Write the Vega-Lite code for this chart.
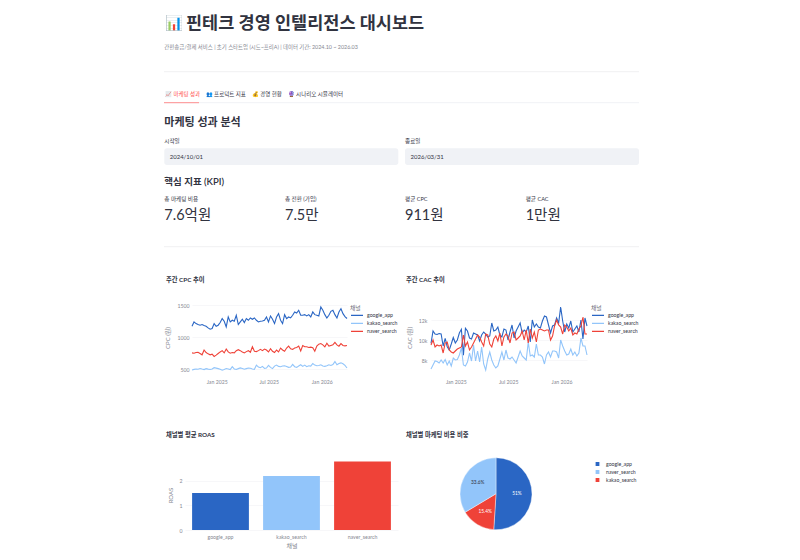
{
  "$schema": "https://vega.github.io/schema/vega-lite/v6.json",
  "padding": {"left": 163, "top": 0, "right": 0, "bottom": 0},
  "background": "#ffffff",
  "config": {
    "font": "Lato, \"Noto Sans CJK KR\"",
    "view": {"stroke": null},
    "axis": {
      "grid": false,
      "domain": false,
      "ticks": false,
      "labelColor": "#858791",
      "titleColor": "#858791",
      "labelFontSize": 5.2,
      "titleFontSize": 6,
      "titleFontWeight": 400,
      "gridColor": "#f4f4f6",
      "gridWidth": 0.7
    },
    "legend": {
      "labelColor": "#31333f",
      "titleColor": "#6b6d78",
      "labelFontSize": 5.2,
      "titleFontSize": 5.8,
      "titleFontWeight": 400
    },
    "title": {
      "anchor": "start",
      "frame": "group",
      "fontSize": 6.3,
      "fontWeight": 700,
      "color": "#31333f"
    }
  },
  "datasets": {
    "weekly": [
      {"week":"2024-09-30","channel":"google_app","cpc":1170,"cac":9670},
      {"week":"2024-10-07","channel":"google_app","cpc":1237,"cac":10900},
      {"week":"2024-10-14","channel":"google_app","cpc":1211,"cac":10600},
      {"week":"2024-10-21","channel":"google_app","cpc":1196,"cac":10550},
      {"week":"2024-10-28","channel":"google_app","cpc":1186,"cac":10650},
      {"week":"2024-11-04","channel":"google_app","cpc":1196,"cac":10600},
      {"week":"2024-11-11","channel":"google_app","cpc":1180,"cac":9400},
      {"week":"2024-11-18","channel":"google_app","cpc":1170,"cac":10170},
      {"week":"2024-11-25","channel":"google_app","cpc":1144,"cac":9330},
      {"week":"2024-12-02","channel":"google_app","cpc":1124,"cac":9000},
      {"week":"2024-12-09","channel":"google_app","cpc":1134,"cac":9600},
      {"week":"2024-12-16","channel":"google_app","cpc":1211,"cac":10250},
      {"week":"2024-12-23","channel":"google_app","cpc":1170,"cac":9700},
      {"week":"2024-12-30","channel":"google_app","cpc":1186,"cac":10000},
      {"week":"2025-01-06","channel":"google_app","cpc":1227,"cac":10700},
      {"week":"2025-01-13","channel":"google_app","cpc":1289,"cac":11070},
      {"week":"2025-01-20","channel":"google_app","cpc":1247,"cac":8470},
      {"week":"2025-01-27","channel":"google_app","cpc":1160,"cac":11170},
      {"week":"2025-02-03","channel":"google_app","cpc":1314,"cac":10900},
      {"week":"2025-02-10","channel":"google_app","cpc":1237,"cac":10200},
      {"week":"2025-02-17","channel":"google_app","cpc":1263,"cac":10100},
      {"week":"2025-02-24","channel":"google_app","cpc":1247,"cac":10700},
      {"week":"2025-03-03","channel":"google_app","cpc":1340,"cac":10600},
      {"week":"2025-03-10","channel":"google_app","cpc":1196,"cac":10500},
      {"week":"2025-03-17","channel":"google_app","cpc":1237,"cac":9900},
      {"week":"2025-03-24","channel":"google_app","cpc":1278,"cac":10500},
      {"week":"2025-03-31","channel":"google_app","cpc":1227,"cac":10800},
      {"week":"2025-04-07","channel":"google_app","cpc":1289,"cac":10600},
      {"week":"2025-04-14","channel":"google_app","cpc":1263,"cac":10300},
      {"week":"2025-04-21","channel":"google_app","cpc":1299,"cac":10400},
      {"week":"2025-04-28","channel":"google_app","cpc":1278,"cac":11700},
      {"week":"2025-05-05","channel":"google_app","cpc":1299,"cac":10900},
      {"week":"2025-05-12","channel":"google_app","cpc":1263,"cac":11000},
      {"week":"2025-05-19","channel":"google_app","cpc":1237,"cac":11300},
      {"week":"2025-05-26","channel":"google_app","cpc":1247,"cac":10500},
      {"week":"2025-06-02","channel":"google_app","cpc":1252,"cac":10300},
      {"week":"2025-06-09","channel":"google_app","cpc":1263,"cac":11100},
      {"week":"2025-06-16","channel":"google_app","cpc":1314,"cac":11000},
      {"week":"2025-06-23","channel":"google_app","cpc":1237,"cac":10000},
      {"week":"2025-06-30","channel":"google_app","cpc":1330,"cac":10800},
      {"week":"2025-07-07","channel":"google_app","cpc":1278,"cac":11500},
      {"week":"2025-07-14","channel":"google_app","cpc":1211,"cac":10200},
      {"week":"2025-07-21","channel":"google_app","cpc":1314,"cac":10900},
      {"week":"2025-07-28","channel":"google_app","cpc":1366,"cac":11300},
      {"week":"2025-08-04","channel":"google_app","cpc":1263,"cac":11700},
      {"week":"2025-08-11","channel":"google_app","cpc":1211,"cac":10700},
      {"week":"2025-08-18","channel":"google_app","cpc":1350,"cac":11000},
      {"week":"2025-08-25","channel":"google_app","cpc":1289,"cac":10800},
      {"week":"2025-09-01","channel":"google_app","cpc":1314,"cac":11400},
      {"week":"2025-09-08","channel":"google_app","cpc":1299,"cac":9800},
      {"week":"2025-09-15","channel":"google_app","cpc":1340,"cac":12000},
      {"week":"2025-09-22","channel":"google_app","cpc":1392,"cac":11300},
      {"week":"2025-09-29","channel":"google_app","cpc":1376,"cac":11600},
      {"week":"2025-10-06","channel":"google_app","cpc":1418,"cac":11300},
      {"week":"2025-10-13","channel":"google_app","cpc":1340,"cac":11200},
      {"week":"2025-10-20","channel":"google_app","cpc":1340,"cac":11900},
      {"week":"2025-10-27","channel":"google_app","cpc":1350,"cac":12400},
      {"week":"2025-11-03","channel":"google_app","cpc":1330,"cac":12300},
      {"week":"2025-11-10","channel":"google_app","cpc":1350,"cac":11500},
      {"week":"2025-11-17","channel":"google_app","cpc":1314,"cac":10700},
      {"week":"2025-11-24","channel":"google_app","cpc":1392,"cac":11400},
      {"week":"2025-12-01","channel":"google_app","cpc":1350,"cac":11500},
      {"week":"2025-12-08","channel":"google_app","cpc":1340,"cac":12200},
      {"week":"2025-12-15","channel":"google_app","cpc":1330,"cac":11700},
      {"week":"2025-12-22","channel":"google_app","cpc":1469,"cac":13300},
      {"week":"2025-12-29","channel":"google_app","cpc":1418,"cac":11900},
      {"week":"2026-01-05","channel":"google_app","cpc":1350,"cac":10800},
      {"week":"2026-01-12","channel":"google_app","cpc":1299,"cac":11600},
      {"week":"2026-01-19","channel":"google_app","cpc":1340,"cac":11200},
      {"week":"2026-01-26","channel":"google_app","cpc":1402,"cac":11900},
      {"week":"2026-02-02","channel":"google_app","cpc":1418,"cac":10800},
      {"week":"2026-02-09","channel":"google_app","cpc":1350,"cac":11100},
      {"week":"2026-02-16","channel":"google_app","cpc":1299,"cac":11400},
      {"week":"2026-02-23","channel":"google_app","cpc":1392,"cac":10800},
      {"week":"2026-03-02","channel":"google_app","cpc":1443,"cac":12000},
      {"week":"2026-03-09","channel":"google_app","cpc":1366,"cac":10100},
      {"week":"2026-03-16","channel":"google_app","cpc":1320,"cac":12200},
      {"week":"2026-03-23","channel":"google_app","cpc":1290,"cac":11400},
      {"week":"2024-09-30","channel":"kakao_search","cpc":490,"cac":7100},
      {"week":"2024-10-07","channel":"kakao_search","cpc":498,"cac":7500},
      {"week":"2024-10-14","channel":"kakao_search","cpc":505,"cac":7900},
      {"week":"2024-10-21","channel":"kakao_search","cpc":500,"cac":7850},
      {"week":"2024-10-28","channel":"kakao_search","cpc":512,"cac":7700},
      {"week":"2024-11-04","channel":"kakao_search","cpc":503,"cac":8000},
      {"week":"2024-11-11","channel":"kakao_search","cpc":495,"cac":7700},
      {"week":"2024-11-18","channel":"kakao_search","cpc":510,"cac":8050},
      {"week":"2024-11-25","channel":"kakao_search","cpc":502,"cac":7500},
      {"week":"2024-12-02","channel":"kakao_search","cpc":496,"cac":7900},
      {"week":"2024-12-09","channel":"kakao_search","cpc":505,"cac":7400},
      {"week":"2024-12-16","channel":"kakao_search","cpc":525,"cac":8200},
      {"week":"2024-12-23","channel":"kakao_search","cpc":518,"cac":8000},
      {"week":"2024-12-30","channel":"kakao_search","cpc":510,"cac":8050},
      {"week":"2025-01-06","channel":"kakao_search","cpc":500,"cac":8500},
      {"week":"2025-01-13","channel":"kakao_search","cpc":485,"cac":9200},
      {"week":"2025-01-20","channel":"kakao_search","cpc":498,"cac":7500},
      {"week":"2025-01-27","channel":"kakao_search","cpc":512,"cac":7400},
      {"week":"2025-02-03","channel":"kakao_search","cpc":505,"cac":7800},
      {"week":"2025-02-10","channel":"kakao_search","cpc":495,"cac":8700},
      {"week":"2025-02-17","channel":"kakao_search","cpc":540,"cac":7900},
      {"week":"2025-02-24","channel":"kakao_search","cpc":505,"cac":9500},
      {"week":"2025-03-03","channel":"kakao_search","cpc":498,"cac":7900},
      {"week":"2025-03-10","channel":"kakao_search","cpc":510,"cac":8900},
      {"week":"2025-03-17","channel":"kakao_search","cpc":522,"cac":7800},
      {"week":"2025-03-24","channel":"kakao_search","cpc":512,"cac":9300},
      {"week":"2025-03-31","channel":"kakao_search","cpc":500,"cac":7600},
      {"week":"2025-04-07","channel":"kakao_search","cpc":510,"cac":7000},
      {"week":"2025-04-14","channel":"kakao_search","cpc":520,"cac":8100},
      {"week":"2025-04-21","channel":"kakao_search","cpc":515,"cac":8800},
      {"week":"2025-04-28","channel":"kakao_search","cpc":505,"cac":8000},
      {"week":"2025-05-05","channel":"kakao_search","cpc":500,"cac":7500},
      {"week":"2025-05-12","channel":"kakao_search","cpc":565,"cac":7200},
      {"week":"2025-05-19","channel":"kakao_search","cpc":535,"cac":7400},
      {"week":"2025-05-26","channel":"kakao_search","cpc":525,"cac":8100},
      {"week":"2025-06-02","channel":"kakao_search","cpc":545,"cac":8800},
      {"week":"2025-06-09","channel":"kakao_search","cpc":515,"cac":8000},
      {"week":"2025-06-16","channel":"kakao_search","cpc":520,"cac":9000},
      {"week":"2025-06-23","channel":"kakao_search","cpc":560,"cac":8200},
      {"week":"2025-06-30","channel":"kakao_search","cpc":530,"cac":8100},
      {"week":"2025-07-07","channel":"kakao_search","cpc":510,"cac":8300},
      {"week":"2025-07-14","channel":"kakao_search","cpc":550,"cac":8000},
      {"week":"2025-07-21","channel":"kakao_search","cpc":565,"cac":7700},
      {"week":"2025-07-28","channel":"kakao_search","cpc":545,"cac":8300},
      {"week":"2025-08-04","channel":"kakao_search","cpc":540,"cac":8900},
      {"week":"2025-08-11","channel":"kakao_search","cpc":550,"cac":8400},
      {"week":"2025-08-18","channel":"kakao_search","cpc":555,"cac":8200},
      {"week":"2025-08-25","channel":"kakao_search","cpc":545,"cac":8000},
      {"week":"2025-09-01","channel":"kakao_search","cpc":530,"cac":9800},
      {"week":"2025-09-08","channel":"kakao_search","cpc":535,"cac":8400},
      {"week":"2025-09-15","channel":"kakao_search","cpc":575,"cac":8500},
      {"week":"2025-09-22","channel":"kakao_search","cpc":540,"cac":8300},
      {"week":"2025-09-29","channel":"kakao_search","cpc":530,"cac":9600},
      {"week":"2025-10-06","channel":"kakao_search","cpc":550,"cac":8500},
      {"week":"2025-10-13","channel":"kakao_search","cpc":570,"cac":8500},
      {"week":"2025-10-20","channel":"kakao_search","cpc":545,"cac":8300},
      {"week":"2025-10-27","channel":"kakao_search","cpc":565,"cac":7600},
      {"week":"2025-11-03","channel":"kakao_search","cpc":540,"cac":8500},
      {"week":"2025-11-10","channel":"kakao_search","cpc":555,"cac":8800},
      {"week":"2025-11-17","channel":"kakao_search","cpc":550,"cac":8300},
      {"week":"2025-11-24","channel":"kakao_search","cpc":590,"cac":8900},
      {"week":"2025-12-01","channel":"kakao_search","cpc":565,"cac":8900},
      {"week":"2025-12-08","channel":"kakao_search","cpc":555,"cac":8800},
      {"week":"2025-12-15","channel":"kakao_search","cpc":560,"cac":8200},
      {"week":"2025-12-22","channel":"kakao_search","cpc":570,"cac":10000},
      {"week":"2025-12-29","channel":"kakao_search","cpc":550,"cac":9400},
      {"week":"2026-01-05","channel":"kakao_search","cpc":545,"cac":8900},
      {"week":"2026-01-12","channel":"kakao_search","cpc":555,"cac":8500},
      {"week":"2026-01-19","channel":"kakao_search","cpc":570,"cac":8600},
      {"week":"2026-01-26","channel":"kakao_search","cpc":560,"cac":9100},
      {"week":"2026-02-02","channel":"kakao_search","cpc":575,"cac":8500},
      {"week":"2026-02-09","channel":"kakao_search","cpc":620,"cac":8800},
      {"week":"2026-02-16","channel":"kakao_search","cpc":570,"cac":8400},
      {"week":"2026-02-23","channel":"kakao_search","cpc":590,"cac":8700},
      {"week":"2026-03-02","channel":"kakao_search","cpc":600,"cac":10200},
      {"week":"2026-03-09","channel":"kakao_search","cpc":585,"cac":9400},
      {"week":"2026-03-16","channel":"kakao_search","cpc":560,"cac":9400},
      {"week":"2026-03-23","channel":"kakao_search","cpc":520,"cac":8500},
      {"week":"2024-09-30","channel":"naver_search","cpc":755,"cac":9500},
      {"week":"2024-10-07","channel":"naver_search","cpc":750,"cac":10000},
      {"week":"2024-10-14","channel":"naver_search","cpc":760,"cac":9300},
      {"week":"2024-10-21","channel":"naver_search","cpc":765,"cac":9500},
      {"week":"2024-10-28","channel":"naver_search","cpc":745,"cac":9400},
      {"week":"2024-11-04","channel":"naver_search","cpc":725,"cac":9500},
      {"week":"2024-11-11","channel":"naver_search","cpc":800,"cac":8700},
      {"week":"2024-11-18","channel":"naver_search","cpc":760,"cac":9700},
      {"week":"2024-11-25","channel":"naver_search","cpc":740,"cac":9800},
      {"week":"2024-12-02","channel":"naver_search","cpc":725,"cac":9000},
      {"week":"2024-12-09","channel":"naver_search","cpc":735,"cac":8800},
      {"week":"2024-12-16","channel":"naver_search","cpc":700,"cac":8700},
      {"week":"2024-12-23","channel":"naver_search","cpc":720,"cac":8900},
      {"week":"2024-12-30","channel":"naver_search","cpc":745,"cac":9100},
      {"week":"2025-01-06","channel":"naver_search","cpc":770,"cac":9200},
      {"week":"2025-01-13","channel":"naver_search","cpc":790,"cac":9300},
      {"week":"2025-01-20","channel":"naver_search","cpc":755,"cac":10500},
      {"week":"2025-01-27","channel":"naver_search","cpc":815,"cac":9400},
      {"week":"2025-02-03","channel":"naver_search","cpc":770,"cac":9800},
      {"week":"2025-02-10","channel":"naver_search","cpc":750,"cac":9000},
      {"week":"2025-02-17","channel":"naver_search","cpc":760,"cac":9300},
      {"week":"2025-02-24","channel":"naver_search","cpc":755,"cac":9700},
      {"week":"2025-03-03","channel":"naver_search","cpc":790,"cac":10100},
      {"week":"2025-03-10","channel":"naver_search","cpc":805,"cac":10500},
      {"week":"2025-03-17","channel":"naver_search","cpc":790,"cac":10300},
      {"week":"2025-03-24","channel":"naver_search","cpc":770,"cac":9800},
      {"week":"2025-03-31","channel":"naver_search","cpc":755,"cac":9400},
      {"week":"2025-04-07","channel":"naver_search","cpc":775,"cac":10600},
      {"week":"2025-04-14","channel":"naver_search","cpc":790,"cac":10500},
      {"week":"2025-04-21","channel":"naver_search","cpc":765,"cac":9600},
      {"week":"2025-04-28","channel":"naver_search","cpc":850,"cac":9300},
      {"week":"2025-05-05","channel":"naver_search","cpc":780,"cac":10100},
      {"week":"2025-05-12","channel":"naver_search","cpc":775,"cac":10400},
      {"week":"2025-05-19","channel":"naver_search","cpc":790,"cac":9900},
      {"week":"2025-05-26","channel":"naver_search","cpc":810,"cac":10700},
      {"week":"2025-06-02","channel":"naver_search","cpc":790,"cac":9400},
      {"week":"2025-06-09","channel":"naver_search","cpc":815,"cac":10300},
      {"week":"2025-06-16","channel":"naver_search","cpc":800,"cac":10600},
      {"week":"2025-06-23","channel":"naver_search","cpc":770,"cac":10400},
      {"week":"2025-06-30","channel":"naver_search","cpc":820,"cac":9700},
      {"week":"2025-07-07","channel":"naver_search","cpc":780,"cac":10700},
      {"week":"2025-07-14","channel":"naver_search","cpc":760,"cac":10800},
      {"week":"2025-07-21","channel":"naver_search","cpc":800,"cac":10000},
      {"week":"2025-07-28","channel":"naver_search","cpc":770,"cac":10200},
      {"week":"2025-08-04","channel":"naver_search","cpc":830,"cac":10400},
      {"week":"2025-08-11","channel":"naver_search","cpc":800,"cac":10900},
      {"week":"2025-08-18","channel":"naver_search","cpc":780,"cac":10000},
      {"week":"2025-08-25","channel":"naver_search","cpc":830,"cac":11000},
      {"week":"2025-09-01","channel":"naver_search","cpc":860,"cac":9700},
      {"week":"2025-09-08","channel":"naver_search","cpc":820,"cac":11100},
      {"week":"2025-09-15","channel":"naver_search","cpc":810,"cac":10200},
      {"week":"2025-09-22","channel":"naver_search","cpc":830,"cac":10800},
      {"week":"2025-09-29","channel":"naver_search","cpc":840,"cac":9800},
      {"week":"2025-10-06","channel":"naver_search","cpc":860,"cac":11000},
      {"week":"2025-10-13","channel":"naver_search","cpc":785,"cac":11100},
      {"week":"2025-10-20","channel":"naver_search","cpc":870,"cac":11000},
      {"week":"2025-10-27","channel":"naver_search","cpc":850,"cac":10900},
      {"week":"2025-11-03","channel":"naver_search","cpc":850,"cac":11000},
      {"week":"2025-11-10","channel":"naver_search","cpc":840,"cac":11000},
      {"week":"2025-11-17","channel":"naver_search","cpc":845,"cac":10000},
      {"week":"2025-11-24","channel":"naver_search","cpc":835,"cac":10400},
      {"week":"2025-12-01","channel":"naver_search","cpc":780,"cac":11400},
      {"week":"2025-12-08","channel":"naver_search","cpc":860,"cac":12000},
      {"week":"2025-12-15","channel":"naver_search","cpc":890,"cac":11500},
      {"week":"2025-12-22","channel":"naver_search","cpc":900,"cac":11300},
      {"week":"2025-12-29","channel":"naver_search","cpc":880,"cac":10600},
      {"week":"2026-01-05","channel":"naver_search","cpc":850,"cac":11500},
      {"week":"2026-01-12","channel":"naver_search","cpc":905,"cac":11300},
      {"week":"2026-01-19","channel":"naver_search","cpc":860,"cac":10900},
      {"week":"2026-01-26","channel":"naver_search","cpc":870,"cac":11200},
      {"week":"2026-02-02","channel":"naver_search","cpc":880,"cac":10500},
      {"week":"2026-02-09","channel":"naver_search","cpc":920,"cac":10700},
      {"week":"2026-02-16","channel":"naver_search","cpc":880,"cac":10600},
      {"week":"2026-02-23","channel":"naver_search","cpc":860,"cac":11100},
      {"week":"2026-03-02","channel":"naver_search","cpc":900,"cac":11400},
      {"week":"2026-03-09","channel":"naver_search","cpc":870,"cac":12300},
      {"week":"2026-03-16","channel":"naver_search","cpc":865,"cac":10600},
      {"week":"2026-03-23","channel":"naver_search","cpc":870,"cac":10600}
    ],
    "channels": [
      {"channel":"google_app","roas":1.5,"spend":387600000,"share":"51%"},
      {"channel":"kakao_search","roas":2.19,"spend":117000000,"share":"15.4%"},
      {"channel":"naver_search","roas":2.78,"spend":255400000,"share":"33.6%"}
    ]
  },
  "bounds": "flush",
  "spacing": 160,
  "vconcat": [
    {
      "width": 475,
      "height": 140,
      "data": {"values": [{"label": ""}]},
      "layer": [
        {"mark": {"type": "rule", "color": "#f0f0f2", "strokeWidth": 1},
         "encoding": {"x": {"datum": 164, "axis": null, "scale": {"domain": [164, 639], "range": [-28, 447], "nice": false, "zero": false}}, "x2": {"datum": 639}, "y": {"datum": 71.7, "axis": null, "scale": {"domain": [0, 250], "range": [0, 250], "nice": false}}}},
        {"mark": {"type": "rule", "color": "#f0f2f6", "strokeWidth": 1},
         "encoding": {"x": {"datum": 164, "axis": null}, "x2": {"datum": 639}, "y": {"datum": 102.7, "axis": null}}},
        {"mark": {"type": "rule", "color": "#ff8f8f", "strokeWidth": 1},
         "encoding": {"x": {"datum": 164, "axis": null}, "x2": {"datum": 199}, "y": {"datum": 102.7, "axis": null}}},
        {"mark": {"type": "rule", "color": "#f0f0f2", "strokeWidth": 1},
         "encoding": {"x": {"datum": 164, "axis": null}, "x2": {"datum": 639}, "y": {"datum": 246.7, "axis": null}}},
        {"mark": {"type": "rect", "color": "#f0f2f6", "cornerRadius": 2.5},
         "encoding": {"x": {"datum": 164.3, "axis": null}, "x2": {"datum": 398.3}, "y": {"datum": 148.3, "axis": null}, "y2": {"datum": 165}}},
        {"mark": {"type": "rect", "color": "#f0f2f6", "cornerRadius": 2.5},
         "encoding": {"x": {"datum": 405, "axis": null}, "x2": {"datum": 639}, "y": {"datum": 148.3, "axis": null}, "y2": {"datum": 165}}},
        {"data": {"values": [{"label": "📊"}]},
         "mark": {"type": "text", "align": "left", "fontSize": 14.5, "color": "#31333f"},
         "encoding": {"text": {"field": "label"}, "x": {"datum": 165, "axis": null}, "y": {"datum": 24, "axis": null}}},
        {"data": {"values": [{"label": "핀테크 경영 인텔리전스 대시보드"}]},
         "mark": {"type": "text", "align": "left", "fontSize": 17.5, "fontWeight": 700, "color": "#31333f"},
         "encoding": {"text": {"field": "label"}, "x": {"datum": 186, "axis": null}, "y": {"datum": 24, "axis": null}}},
        {"data": {"values": [{"label": "간편송금/결제 서비스 | 초기 스타트업 (시드~프리A) | 데이터 기간: 2024.10 ~ 2026.03"}]},
         "mark": {"type": "text", "align": "left", "fontSize": 5.4, "color": "#858791"},
         "encoding": {"text": {"field": "label"}, "x": {"datum": 164.3, "axis": null}, "y": {"datum": 46.7, "axis": null}}},
        {"data": {"values": [{"label": "📈 마케팅 성과"}]},
         "mark": {"type": "text", "align": "left", "fontSize": 5.5, "color": "#ff4b4b"},
         "encoding": {"text": {"field": "label"}, "x": {"datum": 165, "axis": null}, "y": {"datum": 94, "axis": null}}},
        {"data": {"values": [{"label": "👥 프로덕트 지표"}]},
         "mark": {"type": "text", "align": "left", "fontSize": 5.5, "color": "#31333f"},
         "encoding": {"text": {"field": "label"}, "x": {"datum": 205.7, "axis": null}, "y": {"datum": 94, "axis": null}}},
        {"data": {"values": [{"label": "💰 경영 현황"}]},
         "mark": {"type": "text", "align": "left", "fontSize": 5.5, "color": "#31333f"},
         "encoding": {"text": {"field": "label"}, "x": {"datum": 251.7, "axis": null}, "y": {"datum": 94, "axis": null}}},
        {"data": {"values": [{"label": "🔮 시나리오 시뮬레이터"}]},
         "mark": {"type": "text", "align": "left", "fontSize": 5.5, "color": "#31333f"},
         "encoding": {"text": {"field": "label"}, "x": {"datum": 287.7, "axis": null}, "y": {"datum": 94, "axis": null}}},
        {"data": {"values": [{"label": "마케팅 성과 분석"}]},
         "mark": {"type": "text", "align": "left", "fontSize": 11, "fontWeight": 600, "color": "#31333f"},
         "encoding": {"text": {"field": "label"}, "x": {"datum": 164.3, "axis": null}, "y": {"datum": 122.5, "axis": null}}},
        {"data": {"values": [{"label": "시작일"}]},
         "mark": {"type": "text", "align": "left", "fontSize": 5.6, "color": "#31333f"},
         "encoding": {"text": {"field": "label"}, "x": {"datum": 164.3, "axis": null}, "y": {"datum": 141, "axis": null}}},
        {"data": {"values": [{"label": "종료일"}]},
         "mark": {"type": "text", "align": "left", "fontSize": 5.6, "color": "#31333f"},
         "encoding": {"text": {"field": "label"}, "x": {"datum": 405, "axis": null}, "y": {"datum": 141, "axis": null}}},
        {"data": {"values": [{"label": "2024/10/01"}]},
         "mark": {"type": "text", "align": "left", "fontSize": 6, "color": "#31333f"},
         "encoding": {"text": {"field": "label"}, "x": {"datum": 169.7, "axis": null}, "y": {"datum": 156.7, "axis": null}}},
        {"data": {"values": [{"label": "2026/03/31"}]},
         "mark": {"type": "text", "align": "left", "fontSize": 6, "color": "#31333f"},
         "encoding": {"text": {"field": "label"}, "x": {"datum": 410.5, "axis": null}, "y": {"datum": 156.7, "axis": null}}},
        {"data": {"values": [{"label": "핵심 지표 (KPI)"}]},
         "mark": {"type": "text", "align": "left", "fontSize": 9.5, "fontWeight": 600, "color": "#31333f"},
         "encoding": {"text": {"field": "label"}, "x": {"datum": 164.3, "axis": null}, "y": {"datum": 182, "axis": null}}},
        {"data": {"values": [{"label": "총 마케팅 비용"}]},
         "mark": {"type": "text", "align": "left", "fontSize": 5.6, "color": "#31333f"},
         "encoding": {"text": {"field": "label"}, "x": {"datum": 164.3, "axis": null}, "y": {"datum": 199, "axis": null}}},
        {"data": {"values": [{"label": "총 전환 (가입)"}]},
         "mark": {"type": "text", "align": "left", "fontSize": 5.6, "color": "#31333f"},
         "encoding": {"text": {"field": "label"}, "x": {"datum": 285, "axis": null}, "y": {"datum": 199, "axis": null}}},
        {"data": {"values": [{"label": "평균 CPC"}]},
         "mark": {"type": "text", "align": "left", "fontSize": 5.6, "color": "#31333f"},
         "encoding": {"text": {"field": "label"}, "x": {"datum": 405, "axis": null}, "y": {"datum": 199, "axis": null}}},
        {"data": {"values": [{"label": "평균 CAC"}]},
         "mark": {"type": "text", "align": "left", "fontSize": 5.6, "color": "#31333f"},
         "encoding": {"text": {"field": "label"}, "x": {"datum": 525.7, "axis": null}, "y": {"datum": 199, "axis": null}}},
        {"data": {"values": [{"label": "7.6억원"}]},
         "mark": {"type": "text", "align": "left", "fontSize": 14.5, "color": "#31333f"},
         "encoding": {"text": {"field": "label"}, "x": {"datum": 164.3, "axis": null}, "y": {"datum": 215.5, "axis": null}}},
        {"data": {"values": [{"label": "7.5만"}]},
         "mark": {"type": "text", "align": "left", "fontSize": 14.5, "color": "#31333f"},
         "encoding": {"text": {"field": "label"}, "x": {"datum": 285, "axis": null}, "y": {"datum": 215.5, "axis": null}}},
        {"data": {"values": [{"label": "911원"}]},
         "mark": {"type": "text", "align": "left", "fontSize": 14.5, "color": "#31333f"},
         "encoding": {"text": {"field": "label"}, "x": {"datum": 405, "axis": null}, "y": {"datum": 215.5, "axis": null}}},
        {"data": {"values": [{"label": "1만원"}]},
         "mark": {"type": "text", "align": "left", "fontSize": 14.5, "color": "#31333f"},
         "encoding": {"text": {"field": "label"}, "x": {"datum": 525.7, "axis": null}, "y": {"datum": 215.5, "axis": null}}}
      ]
    },
    {
      "bounds": "flush",
      "spacing": 84,
      "resolve": {"scale": {"color": "independent", "x": "independent", "y": "independent"}},
      "hconcat": [
        {
          "width": 155,
          "height": 75,
          "title": {"text": "주간 CPC 추이", "dx": -26, "offset": 17},
          "data": {"name": "weekly"},
          "mark": {"type": "line", "strokeWidth": 1.1},
          "encoding": {
            "x": {"field": "week", "type": "temporal", "title": null,
                  "scale": {"nice": false},
                  "axis": {"values": ["2025-01-01", "2025-07-01", "2026-01-01"], "format": "%b %Y", "labelPadding": 4, "labelFlush": false, "labelOffset": -2}},
            "y": {"field": "cpc", "type": "quantitative", "title": "CPC (원)",
                  "scale": {"domain": [411, 1578], "nice": false},
                  "axis": {"values": [500, 1000, 1500], "format": "d", "grid": true, "labelPadding": 3, "titlePadding": 6}},
            "color": {"field": "channel", "type": "nominal", "title": "채널",
                      "scale": {"domain": ["google_app", "kakao_search", "naver_search"], "range": ["#2a66c4", "#92c5fa", "#ef4238"]},
                      "legend": {"orient": "none", "legendX": 158, "legendY": 4.5, "symbolType": "stroke", "symbolStrokeWidth": 1.2, "symbolSize": 144, "clipHeight": 8, "rowPadding": 0, "labelOffset": 3, "titlePadding": 1}}
          }
        },
        {
          "width": 156,
          "height": 75,
          "title": {"text": "주간 CAC 추이", "dx": -25, "offset": 17},
          "data": {"name": "weekly"},
          "mark": {"type": "line", "strokeWidth": 1.1},
          "encoding": {
            "x": {"field": "week", "type": "temporal", "title": null,
                  "scale": {"nice": false},
                  "axis": {"values": ["2025-01-01", "2025-07-01", "2026-01-01"], "format": "%b %Y", "labelPadding": 4, "labelFlush": false, "labelOffset": -2}},
            "y": {"field": "cac", "type": "quantitative", "title": "CAC (원)",
                  "scale": {"domain": [6500, 14000], "nice": false},
                  "axis": {"values": [8000, 10000, 12000], "format": "~s", "grid": true, "labelPadding": 4, "titlePadding": 6}},
            "color": {"field": "channel", "type": "nominal", "title": "채널",
                      "scale": {"domain": ["google_app", "kakao_search", "naver_search"], "range": ["#2a66c4", "#92c5fa", "#ef4238"]},
                      "legend": {"orient": "none", "legendX": 160, "legendY": 4.5, "symbolType": "stroke", "symbolStrokeWidth": 1.2, "symbolSize": 144, "clipHeight": 8, "rowPadding": 0, "labelOffset": 3, "titlePadding": 1}}
          }
        }
      ]
    },
    {
      "bounds": "flush",
      "spacing": 33,
      "resolve": {"scale": {"color": "independent", "x": "independent", "y": "independent"}},
      "hconcat": [
        {
          "width": 206,
          "height": 70,
          "title": {"text": "채널별 평균 ROAS", "dx": -26, "offset": 22},
          "data": {"name": "channels"},
          "mark": {"type": "bar"},
          "encoding": {
            "x": {"field": "channel", "type": "nominal", "title": "채널",
                  "scale": {"range": [-7, 206], "paddingInner": 0.2, "paddingOuter": 0.1},
                  "axis": {"labelAngle": 0, "labelPadding": 4, "titlePadding": 3}},
            "y": {"field": "roas", "type": "quantitative", "title": "ROAS",
                  "scale": {"domain": [0, 2.84], "nice": false},
                  "axis": {"values": [0, 1, 2], "grid": true, "labelPadding": 10, "titlePadding": 5}},
            "color": {"field": "channel", "type": "nominal", "legend": null,
                      "scale": {"domain": ["google_app", "kakao_search", "naver_search"], "range": ["#2a66c4", "#92c5fa", "#ef4238"]}}
          }
        },
        {
          "width": 130,
          "height": 67.5,
          "title": {"text": "채널별 마케팅 비용 비중", "dx": -25, "offset": 19},
          "data": {"name": "channels"},
          "encoding": {
            "theta": {"field": "spend", "type": "quantitative", "stack": true},
            "order": {"field": "channel"}
          },
          "layer": [
            {
              "mark": {"type": "arc", "outerRadius": 36, "stroke": "#ffffff", "strokeWidth": 0.4},
              "encoding": {
                "color": {"field": "channel", "type": "nominal", "title": null,
                          "scale": {"domain": ["google_app", "naver_search", "kakao_search"], "range": ["#2a66c4", "#92c5fa", "#ef4238"]},
                          "legend": {"orient": "right", "offset": 33, "symbolType": "square", "symbolSize": 28, "clipHeight": 8, "rowPadding": 0, "labelOffset": 5}}
              }
            },
            {
              "mark": {"type": "text", "radius": 21, "fontSize": 4.8},
              "encoding": {
                "text": {"field": "share"},
                "color": {"condition": {"test": "datum.channel === 'naver_search'", "value": "#31333f"}, "value": "#ffffff"}
              }
            }
          ]
        }
      ]
    }
  ]
}
